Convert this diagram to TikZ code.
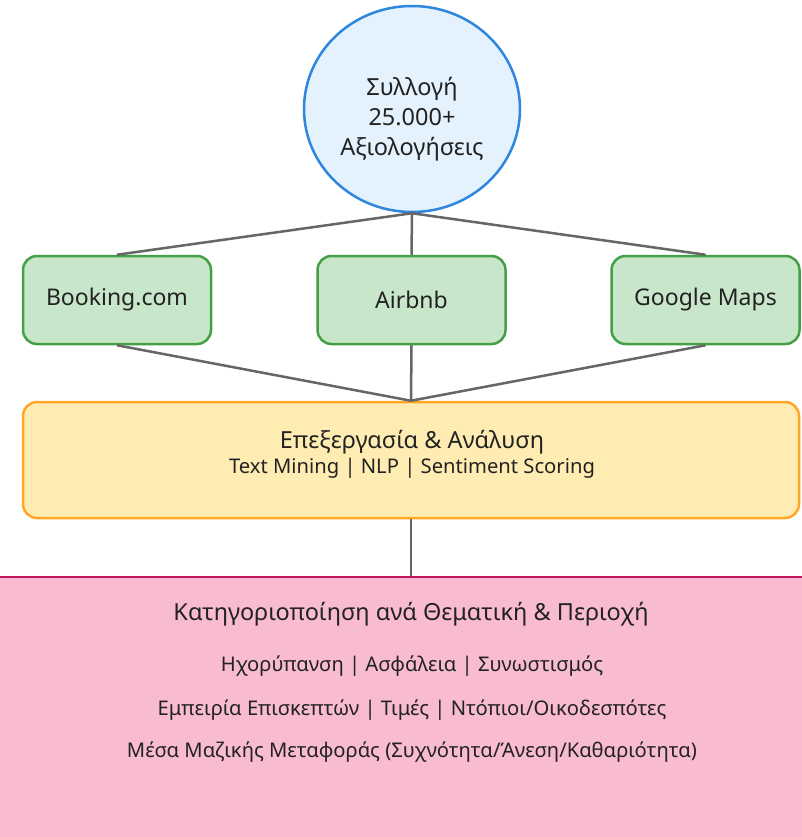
\documentclass[tikz,border=0pt]{standalone}
\usepackage{fontspec}
\setmainfont{Noto Sans}
\usetikzlibrary{shapes.geometric}
\definecolor{circfill}{HTML}{E3F2FD}
\definecolor{circdraw}{HTML}{2E86DE}
\definecolor{srcfill}{HTML}{C8E6C9}
\definecolor{srcdraw}{HTML}{43A047}
\definecolor{procfill}{HTML}{FFECB3}
\definecolor{procdraw}{HTML}{FFA726}
\definecolor{catfill}{HTML}{F8BBD0}
\definecolor{catdraw}{HTML}{C2185B}
\definecolor{linkc}{HTML}{666666}
\definecolor{txt}{HTML}{222222}
\tikzset{
  srcbox/.style={draw=srcdraw, fill=srcfill, line width=2.5pt, rounded corners=14pt,
    minimum width=188pt, minimum height=88pt, inner sep=0pt, text=txt,
    font=\fontsize{23}{28}\selectfont},
  link/.style={draw=linkc, line width=2.5pt},
  lbl/.style={text=txt, inner sep=0pt, anchor=center},
  big/.style={font=\fontsize{23.5}{28}\selectfont},
  small/.style={font=\fontsize{20.2}{24}\selectfont},
}
\begin{document}
\begin{tikzpicture}[x=1pt,y=-1pt]
\useasboundingbox (0,0) rectangle (802,837);
\clip (0,0) rectangle (802,837);
\fill[white] (0,0) rectangle (802,837);
% pink category block
\node[draw=catdraw, fill=catfill, line width=2.5pt, minimum width=820pt, minimum height=300pt, inner sep=0pt] (cat) at (401,727) {};
% processing block
\node[draw=procdraw, fill=procfill, line width=2.5pt, rounded corners=14pt, minimum width=776pt, minimum height=116pt, inner sep=0pt] (proc) at (411,460) {};
% sources
\node[srcbox] (b1) at (117,300) {\raisebox{-2pt}{Booking.com}};
\node[srcbox] (b2) at (411.5,300) {\raisebox{-2pt}{Airbnb}};
\node[srcbox] (b3) at (705.5,300) {\raisebox{-2pt}{Google Maps}};
% collection circle
\node[ellipse, draw=circdraw, fill=circfill, line width=2.5pt, minimum width=216pt, minimum height=206pt, inner sep=0pt] (col) at (412,109) {};
\node[lbl, align=center, font=\fontsize{23.5}{30}\selectfont] (colt) at (412,119) {Συλλογή\\25.000+\\Αξιολογήσεις};
% connectors
\foreach \b in {b1,b2,b3} {
  \draw[link] (col.south) -- (\b.north);
  \draw[link] (\b.south) -- (proc.north);
}
\draw[link] (proc.south) -- (proc.south |- cat.north);
% processing text
\node[lbl, big] (p1) at (412,442) {Επεξεργασία \& Ανάλυση};
\node[lbl, small] (p2) at (412,468) {Text Mining | NLP | Sentiment Scoring};
% category text
\node[lbl, big] (k1) at (411,614) {Κατηγοριοποίηση ανά Θεματική \& Περιοχή};
\node[lbl, small] (k2) at (412,666) {Ηχορύπανση | Ασφάλεια | Συνωστισμός};
\node[lbl, small] (k3) at (412,710) {Εμπειρία Επισκεπτών | Τιμές | Ντόπιοι/Οικοδεσπότες};
\node[lbl, small] (k4) at (412,752) {Μέσα Μαζικής Μεταφοράς (Συχνότητα/Άνεση/Καθαριότητα)};
\end{tikzpicture}
\end{document}
